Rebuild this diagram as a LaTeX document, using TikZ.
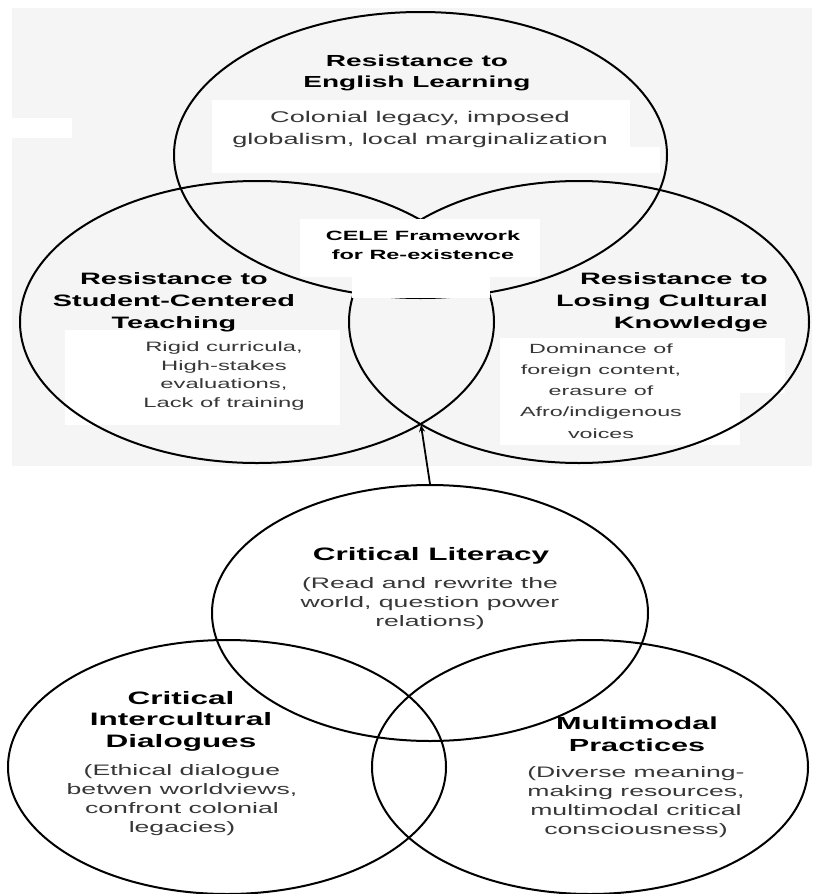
\documentclass[tikz,border=0pt]{standalone}
\usepackage{fontspec}
\setmainfont{Liberation Sans}[FakeStretch=1.75]
\usetikzlibrary{shapes.geometric,arrows.meta}
\definecolor{panel}{RGB}{245,245,245}
\definecolor{bodygray}{RGB}{55,55,55}
\begin{document}
\begin{tikzpicture}[x=1pt,y=-1pt,
  ring/.style={ellipse, draw=black, line width=2pt, inner sep=0pt},
  patch/.style={fill=white, draw=none},
  head/.style={align=center, inner sep=0pt, text=black},
  body/.style={align=center, inner sep=0pt, text=bodygray}]
\useasboundingbox (0,0) rectangle (812,894);

% upper panel: the three forms of resistance
\fill[panel] (12,8) rectangle (812,466);
\fill[patch] (12,118) rectangle (72,138);
\fill[patch] (212,100) rectangle (630,147);
\fill[patch] (212,147) rectangle (660,173);
\fill[patch] (65,330) rectangle (340,425);
\fill[patch] (500,338) rectangle (785,393);
\fill[patch] (500,393) rectangle (740,445);

\node[ring, minimum width=493pt, minimum height=286pt] (resEng) at (420.5,155) {};
\node[ring, minimum width=474pt, minimum height=282pt] (resStu) at (257,322) {};
\node[ring, minimum width=460pt, minimum height=282pt] (resCul) at (579,322) {};

% white label field in the common centre
\fill[patch] (300,219) rectangle (540,277);
\fill[patch] (352,219) rectangle (490,298);

\node[head, font=\bfseries\fontsize{16}{21}\selectfont] (engHead) at (417,73)
  {Resistance to\\English Learning};
\node[body, font=\fontsize{15.5}{22}\selectfont] (engBody) at (420,129)
  {Colonial legacy, imposed\\globalism, local marginalization};
\node[head, font=\bfseries\fontsize{13.4}{19}\selectfont] (cele) at (423,245)
  {CELE Framework\\for Re-existence};
\node[head, font=\bfseries\fontsize{16.5}{22}\selectfont] (stuHead) at (174,302)
  {Resistance to\\Student-Centered\\Teaching};
\node[body, font=\fontsize{13.6}{18.7}\selectfont] (stuBody) at (224,376)
  {Rigid curricula,\\High-stakes\\evaluations,\\Lack of training};
\node[head, align=right, anchor=east, font=\bfseries\fontsize{16.5}{22}\selectfont] (culHead) at (768,302)
  {Resistance to\\Losing Cultural\\Knowledge};
\node[body, font=\fontsize{13.3}{21.2}\selectfont] (culBody) at (601,391)
  {Dominance of\\foreign content,\\erasure of\\Afro/indigenous\\voices};

% lower panel: the three pillars
\node[ring, minimum width=436pt, minimum height=256pt] (critLit) at (430,613) {};
\node[ring, minimum width=438pt, minimum height=254pt] (critInt) at (227,767) {};
\node[ring, minimum width=436pt, minimum height=254pt] (multi) at (590,767) {};

\node[head, font=\bfseries\fontsize{18}{21.5}\selectfont] (litHead) at (431,556)
  {Critical Literacy};
\node[body, font=\fontsize{15.2}{19}\selectfont] (litBody) at (430,604)
  {(Read and rewrite the\\world, question power\\relations)};
\node[head, font=\bfseries\fontsize{18}{21.5}\selectfont] (intHead) at (181,721)
  {Critical\\Intercultural\\Dialogues};
\node[body, font=\fontsize{15.2}{19}\selectfont] (intBody) at (182,800)
  {(Ethical dialogue\\betwen worldviews,\\confront colonial\\legacies)};
\node[head, font=\bfseries\fontsize{17.5}{21.5}\selectfont] (mulHead) at (637,734)
  {Multimodal\\Practices};
\node[body, font=\fontsize{15.2}{19}\selectfont] (mulBody) at (636,802)
  {(Diverse meaning-\\making resources,\\multimodal critical\\consciousness)};

% link from the pillars up to the framework
\coordinate (lensTip) at (421,425);
\draw[line width=1.8pt, -{Stealth[length=7pt,width=6pt]}] (critLit.north) -- (lensTip);
\end{tikzpicture}
\end{document}
